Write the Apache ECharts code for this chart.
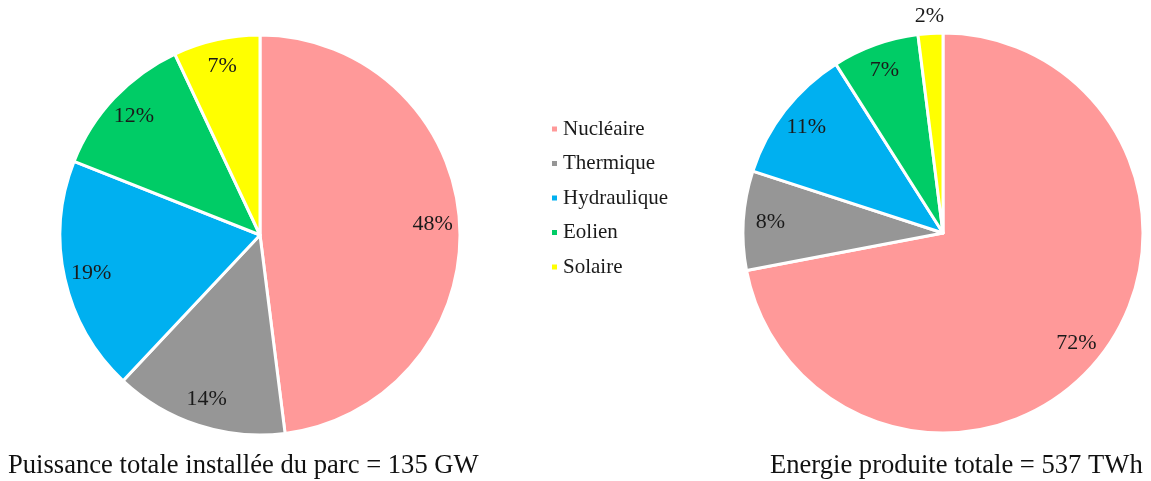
<!DOCTYPE html>
<html>
<head>
<meta charset="utf-8">
<script src="https://cdn.jsdelivr.net/npm/echarts@6/dist/echarts.min.js"></script>
<style>
  html, body { margin: 0; padding: 0; background: #fff; }
  #chart { width: 1151px; height: 481px; }
</style>
</head>
<body>
<div id="chart"></div>
<script>
const categories = ["Nucléaire", "Thermique", "Hydraulique", "Eolien", "Solaire"];
const colors = ["#FF9999", "#969696", "#00B0F0", "#00CC66", "#FFFF00"];
const puissance = [48, 14, 19, 12, 7];
const energie = [72, 8, 11, 7, 2];
const captionLeft = "Puissance totale installée du parc = 135 GW";
const captionRight = "Energie produite totale = 537 TWh";

const font = "'Liberation Serif', 'DejaVu Serif', serif";

function toData(values) {
  return values.map((v, i) => ({ name: categories[i], value: v, itemStyle: { color: colors[i] } }));
}

function mainSeries(values, center) {
  return {
    type: "pie",
    center: center,
    radius: [0, 200],
    startAngle: 90,
    clockwise: true,
    animation: false,
    itemStyle: { borderColor: "#fff", borderWidth: 3 },
    label: { show: false },
    labelLine: { show: false },
    emphasis: { disabled: true },
    data: toData(values)
  };
}

// transparent ring used only to place the percentage labels
function labelSeries(values, center, radius, shown) {
  return {
    type: "pie",
    center: center,
    radius: radius,
    startAngle: 90,
    clockwise: true,
    animation: false,
    silent: true,
    itemStyle: { color: "rgba(0,0,0,0)", borderWidth: 0 },
    labelLine: { show: false },
    emphasis: { disabled: true },
    data: values.map((v, i) => ({
      name: categories[i],
      value: v,
      label: {
        show: shown(i),
        position: "inside",
        formatter: v + "%",
        fontFamily: font,
        fontSize: 22,
        color: "#1a1a1a"
      }
    }))
  };
}

const chart = echarts.init(document.getElementById("chart"));
chart.setOption({
  backgroundColor: "#fff",
  animation: false,
  color: colors,
  title: [
    { text: captionLeft, left: 3, top: 448, textStyle: { fontFamily: font, fontSize: 26.6, fontWeight: "normal", color: "#111" } },
    { text: captionRight, left: 765, top: 448, textStyle: { fontFamily: font, fontSize: 26.6, fontWeight: "normal", color: "#111" } }
  ],
  legend: {
    orient: "vertical",
    left: 550,
    top: 118,
    padding: 0,
    data: categories,
    icon: "rect",
    itemWidth: 7,
    itemHeight: 7,
    itemGap: 12.5,
    selectedMode: false,
    textStyle: { fontFamily: font, fontSize: 21, color: "#1a1a1a", lineHeight: 22 }
  },
  series: [
    mainSeries(puissance, [260, 235]),
    labelSeries(puissance, [260, 235], [140, 200], () => true),
    mainSeries(energie, [943, 233]),
    labelSeries(energie, [943, 233], [140, 200], i => i < 4),
    labelSeries(energie, [943, 233], [200, 228], i => i === 4)
  ]
});
</script>
</body>
</html>
